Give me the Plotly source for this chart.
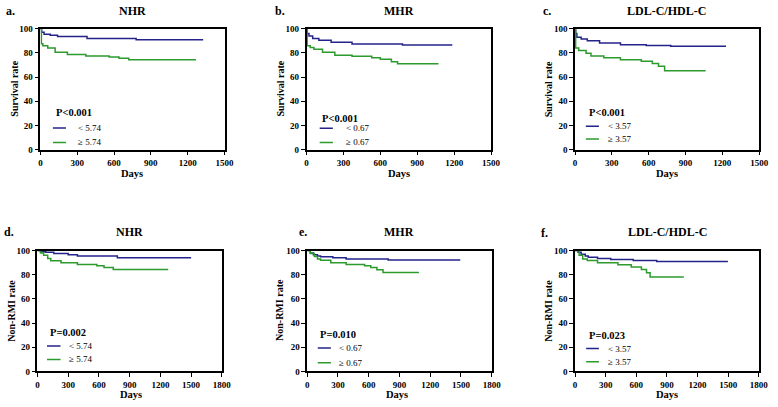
import plotly.graph_objects as go

W, H = 778, 407

# ---------------- data ----------------
# Panel a: NHR, survival
a_low_days = [0, 10, 30, 80, 140, 380, 780, 1326]
a_low_vals = [100, 97, 95.5, 94.5, 93.5, 92, 90.8, 90.8]
a_high_days = [0, 8, 20, 60, 120, 220, 370, 560, 640, 720, 1267]
a_high_vals = [100, 87.5, 86, 84, 80.5, 78.7, 77.4, 76.5, 75.5, 74.4, 74.4]
# Panel b: MHR, survival
b_low_days = [0, 5, 20, 50, 100, 200, 370, 780, 1185]
b_low_vals = [100, 96, 94, 92, 90.5, 88.7, 87.3, 86.5, 86.5]
b_high_days = [0, 5, 30, 60, 130, 230, 370, 530, 600, 690, 740, 1073]
b_high_vals = [100, 86, 84.5, 83, 80.6, 78, 77.2, 76, 74.7, 72.6, 71, 71]
# Panel c: LDL-C/HDL-C, survival
c_low_days = [0, 5, 15, 50, 100, 200, 370, 580, 780, 1230]
c_low_vals = [100, 96, 93, 91.5, 90, 88.1, 86.8, 86.2, 85.5, 85.5]
c_high_days = [0, 5, 30, 90, 130, 235, 370, 540, 630, 680, 730, 1064]
c_high_vals = [100, 84, 82, 79.8, 77.5, 76, 74.4, 73.1, 71.2, 69, 65.3, 65.3]
# Panel d: NHR, non-RMI
d_low_days = [0, 30, 80, 160, 300, 390, 780, 1500]
d_low_vals = [100, 99, 98.5, 97.5, 96.5, 95.5, 94, 94]
d_high_days = [0, 30, 60, 100, 130, 230, 390, 580, 650, 740, 1276]
d_high_vals = [100, 98, 96, 93.5, 91.5, 89.8, 88.5, 87.5, 86, 84.4, 84.4]
# Panel e: MHR, non-RMI
e_low_days = [0, 30, 60, 100, 130, 250, 380, 790, 1494]
e_low_vals = [100, 98, 96.5, 95.5, 94.9, 94, 93, 92.2, 92.2]
e_high_days = [0, 30, 70, 100, 130, 230, 380, 560, 620, 680, 740, 1090]
e_high_vals = [100, 97.5, 95, 93, 92, 89.8, 88.5, 87.5, 86, 84, 81.8, 81.8]
# Panel f: LDL-C/HDL-C, non-RMI
f_low_days = [0, 30, 60, 100, 130, 220, 350, 570, 800, 1497]
f_low_vals = [100, 98.5, 97, 95.5, 94.4, 93.5, 92.5, 91.8, 90.9, 90.9]
f_high_days = [0, 40, 75, 120, 220, 420, 550, 650, 700, 735, 1065]
f_high_vals = [100, 96, 93, 91.7, 89.8, 88.2, 86.3, 84.4, 81.7, 78.2, 78.2]

panel_letters = ["a.", "b.", "c.", "d.", "e.", "f."]
panel_titles = ["NHR", "MHR", "LDL-C/HDL-C", "NHR", "MHR", "LDL-C/HDL-C"]
y_titles = ["Survival rate"] * 3 + ["Non-RMI rate"] * 3
p_texts = ["P<0.001", "P<0.001", "P<0.001", "P=0.002", "P=0.010", "P=0.023"]
low_labels = ["< 5.74", "< 0.67", "< 3.57", "< 5.74", "< 0.67", "< 3.57"]
high_labels = ["\u2265 5.74", "\u2265 0.67", "\u2265 3.57", "\u2265 5.74", "\u2265 0.67", "\u2265 3.57"]
x_max = [1500, 1500, 1500, 1800, 1800, 1800]
y_ticks = [0, 20, 40, 60, 80, 100]

# ---------------- layout geometry (pixels) ----------------
boxes = [  # left, right, top, bottom
    (39, 226, 24.3, 148.3),
    (309.3, 496.7, 24.3, 148.3),
    (582, 769, 24.3, 148.3),
    (36, 223.3, 251.7, 375.7),
    (310, 497.3, 251.7, 375.7),
    (582, 768.7, 251.7, 375.7),
]
letter_pos = [(2, 6), (275, 6), (547, 6), (0, 233), (300, 233), (545, 234)]
title_pos = [(133, 6), (403, 6), (675, 6), (130, 233), (403, 233), (676, 233)]
days_pos = [(132, 173), (403, 173), (675, 173), (131, 399), (401, 399), (675, 399)]
ytitle_pos = [(13, 86), (283, 86), (555, 86), (9.5, 313), (282, 313), (555, 313)]
# legend positions in data units: (p_x, p_y, line_x0, line_x1, text_x, low_y, high_y)
legend_pos = [
    (112, 31, 102, 208, 290, 18, 6),
    (108, 26, 107, 214, 304, 17.7, 6),
    (96, 31, 88, 195, 249, 19.3, 8.9),
    (106, 32, 93, 225, 285, 21, 10),
    (106, 30.6, 103, 231, 288, 19.4, 7.3),
    (116, 29.5, 109, 234, 299, 18.9, 8.1),
]

low_series = [(a_low_days, a_low_vals), (b_low_days, b_low_vals), (c_low_days, c_low_vals),
              (d_low_days, d_low_vals), (e_low_days, e_low_vals), (f_low_days, f_low_vals)]
high_series = [(a_high_days, a_high_vals), (b_high_days, b_high_vals), (c_high_days, c_high_vals),
               (d_high_days, d_high_vals), (e_high_days, e_high_vals), (f_high_days, f_high_vals)]

BLUE = "#23238a"
GREEN = "#2c9a2c"
SERIF = "Liberation Serif"

def px(x):
    return x / W

def py(y):
    return 1 - y / H

fig = go.Figure()
annotations = []
layout_axes = {}

for i in range(6):
    n = "" if i == 0 else str(i + 1)
    xa, ya = "x" + n, "y" + n
    l, r, t, b = boxes[i]
    xmax = x_max[i]
    layout_axes["xaxis" + n] = dict(
        domain=[px(l), px(r)], range=[0, xmax], anchor=ya,
        tickvals=list(range(0, xmax + 1, 300)),
        showline=True, linecolor="black", linewidth=1.5, mirror=True,
        ticks="outside", ticklen=4, tickwidth=1.3, tickcolor="black",
        showgrid=False, zeroline=False,
        tickfont=dict(family=SERIF, size=9, color="black", weight="bold"),
    )
    layout_axes["yaxis" + n] = dict(
        domain=[py(b), py(t)], range=[0, 100], anchor=xa,
        tickvals=y_ticks,
        showline=True, linecolor="black", linewidth=1.5, mirror=True,
        ticks="outside", ticklen=4, tickwidth=1.3, tickcolor="black",
        showgrid=False, zeroline=False,
        tickfont=dict(family=SERIF, size=9, color="black", weight="bold"),
    )
    # curves
    for (dd, vv), col in ((low_series[i], BLUE), (high_series[i], GREEN)):
        fig.add_trace(go.Scatter(x=dd, y=vv, mode="lines", line=dict(color=col, width=1.5, shape="hv"),
                                 xaxis=xa, yaxis=ya, showlegend=False, hoverinfo="skip"))
    pxv, pyv, lx0, lx1, tx, ly_low, ly_high = legend_pos[i]
    for ly, col in ((ly_low, BLUE), (ly_high, GREEN)):
        fig.add_trace(go.Scatter(x=[lx0, lx1], y=[ly, ly], mode="lines", line=dict(color=col, width=1.5),
                                 xaxis=xa, yaxis=ya, showlegend=False, hoverinfo="skip"))
    annotations.append(dict(x=pxv, y=pyv, xref=xa, yref=ya, text="<b>%s</b>" % p_texts[i],
                            showarrow=False, xanchor="left", yanchor="middle",
                            font=dict(family=SERIF, size=10.5, color="black")))
    annotations.append(dict(x=tx, y=ly_low, xref=xa, yref=ya, text=low_labels[i],
                            showarrow=False, xanchor="left", yanchor="middle",
                            font=dict(family=SERIF, size=9, color="black")))
    annotations.append(dict(x=tx, y=ly_high, xref=xa, yref=ya, text=high_labels[i],
                            showarrow=False, xanchor="left", yanchor="middle",
                            font=dict(family=SERIF, size=9, color="black")))
    # texts in paper coords
    lxp, lyp = letter_pos[i]
    annotations.append(dict(x=px(lxp), y=py(lyp), xref="paper", yref="paper", text="<b>%s</b>" % panel_letters[i],
                            showarrow=False, xanchor="left", yanchor="middle",
                            font=dict(family=SERIF, size=12, color="black")))
    txp, typ = title_pos[i]
    annotations.append(dict(x=px(txp), y=py(typ), xref="paper", yref="paper", text="<b>%s</b>" % panel_titles[i],
                            showarrow=False, xanchor="center", yanchor="middle",
                            font=dict(family=SERIF, size=12, color="black")))
    dxp, dyp = days_pos[i]
    annotations.append(dict(x=px(dxp), y=py(dyp), xref="paper", yref="paper", text="<b>Days</b>",
                            showarrow=False, xanchor="center", yanchor="middle",
                            font=dict(family=SERIF, size=10.5, color="black")))
    yxp, yyp = ytitle_pos[i]
    annotations.append(dict(x=px(yxp), y=py(yyp), xref="paper", yref="paper", text="<b>%s</b>" % y_titles[i],
                            showarrow=False, xanchor="center", yanchor="middle", textangle=-90,
                            font=dict(family=SERIF, size=10, color="black")))

fig.update_layout(
    width=W, height=H, margin=dict(l=0, r=0, t=0, b=0),
    paper_bgcolor="white", plot_bgcolor="white",
    annotations=annotations, showlegend=False,
    **layout_axes,
)

fig.write_html(
    "out.html",
    config={"displayModeBar": False},
    post_script="document.body.style.margin='0';document.body.style.overflow='hidden';",
)
